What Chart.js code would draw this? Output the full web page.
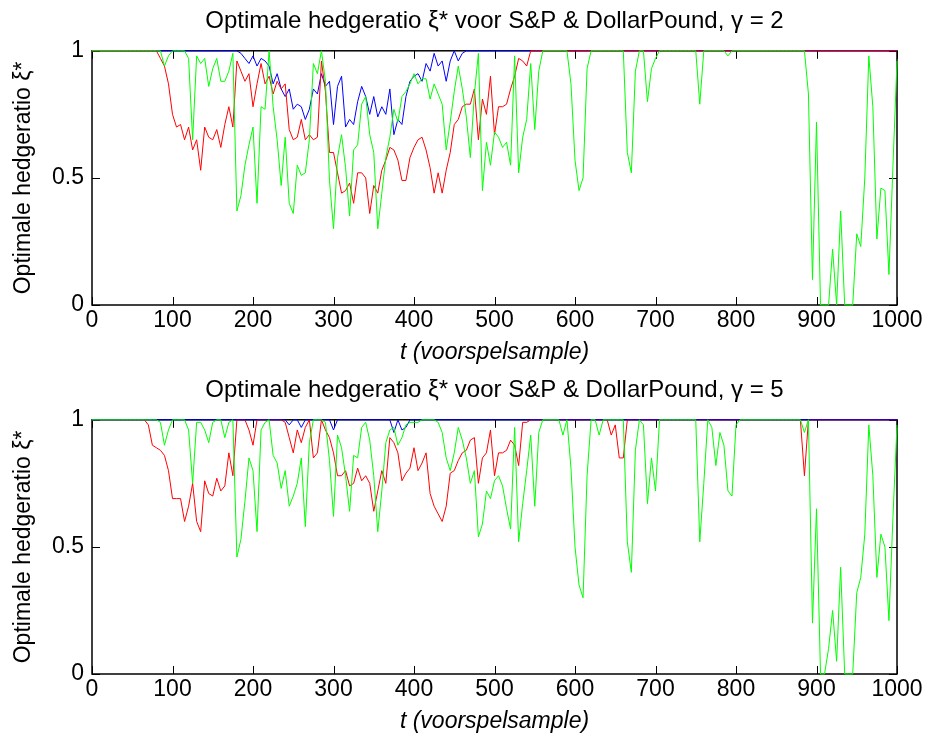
<!DOCTYPE html>
<html lang="nl">
<head>
<meta charset="UTF-8">
<title>Optimale hedgeratio</title>
<script src="https://cdn.jsdelivr.net/npm/chart.js@4/dist/chart.umd.min.js"></script>
<style>
  html, body { margin: 0; padding: 0; background: #fff; overflow: hidden; }
  .wrap { position: relative; width: 927px; height: 738px; }
  canvas { position: absolute; left: 0; }
  #top { top: 0; }
  #bot { top: 369px; }
</style>
</head>
<body>
<div class="wrap">
  <canvas id="top" width="927" height="370"></canvas>
  <canvas id="bot" width="927" height="370"></canvas>
</div>
<script>
// sample times (every 5 steps of the forecast sample)
const tSample = [];
for (let i = 0; i <= 1000; i += 5) tSample.push(i);

const xTicks = [0, 100, 200, 300, 400, 500, 600, 700, 800, 900, 1000];
const yTicks = [0, 0.5, 1];

// gamma = 2
const blueG2 = [
  1,1,1,1,1,1,1,1,1,1,
  1,1,1,1,1,1,1,1,1,1,
  1,1,1,1,1,1,1,1,1,1,
  1,1,1,1,1,1,1,0.99,0.97,0.95,
  0.98,0.94,0.97,0.96,0.94,0.87,0.91,0.85,0.82,0.85,
  0.77,0.79,0.78,0.73,0.77,0.85,0.83,0.91,0.86,0.88,
  0.71,0.86,0.90,0.70,0.73,0.71,0.80,0.86,0.82,0.75,
  0.82,0.74,0.78,0.75,0.85,0.67,0.73,0.71,0.82,0.88,
  0.90,0.91,0.88,0.95,0.92,0.99,0.94,0.96,0.88,0.96,
  1,0.96,0.99,1,1,1,1,1,1,1,
  1,1,1,1,1,1,1,1,1,1,
  1,1,1,1,1,1,1,1,1,1,
  1,1,1,1,1,1,1,1,1,1,
  1,1,1,1,1,1,1,1,1,1,
  1,1,1,1,1,1,1,1,1,1,
  1,1,1,1,1,1,1,1,1,1,
  1,1,1,1,1,1,1,1,1,1,
  1,1,1,1,1,1,1,1,1,1,
  1,1,1,1,1,1,1,1,1,1,
  1,1,1,1,1,1,1,1,1,1,
  1
];
const redG2 = [
  1,1,1,1,1,1,1,1,1,1,
  1,1,1,1,1,1,1,0.97,0.94,0.87,
  0.75,0.70,0.71,0.65,0.70,0.61,0.65,0.53,0.70,0.66,
  0.65,0.69,0.62,0.71,0.78,0.70,0.96,0.92,0.88,0.91,
  0.78,0.87,0.95,0.87,0.90,0.83,0.88,0.85,0.87,0.69,
  0.65,0.66,0.73,0.65,0.67,0.65,0.66,0.96,0.84,0.60,
  0.60,0.52,0.44,0.45,0.48,0.40,0.52,0.52,0.50,0.36,
  0.47,0.44,0.53,0.57,0.62,0.61,0.57,0.49,0.49,0.58,
  0.62,0.65,0.66,0.61,0.54,0.44,0.52,0.44,0.53,0.60,
  0.71,0.73,0.78,0.79,0.79,0.85,0.65,0.81,0.75,0.90,
  0.67,0.78,0.78,0.79,0.85,0.90,0.97,0.96,0.94,1,
  1,1,1,1,1,1,1,1,1,1,
  1,1,1,1,1,1,1,1,1,1,
  1,1,1,1,1,1,1,1,1,1,
  1,1,1,1,1,1,1,1,1,1,
  1,1,1,1,1,1,1,1,1,1,
  1,1,1,1,1,1,1,1,1,1,
  1,1,1,1,1,1,1,1,1,1,
  1,1,1,1,1,1,1,1,1,1,
  1,1,1,1,1,1,1,1,1,1,
  1
];
const greenG2 = [
  1,1,1,1,1,1,1,1,1,1,
  1,1,1,1,1,1,1,1,0.94,0.98,
  1,1,1,1,0.97,0.65,0.98,0.95,0.97,0.86,
  0.93,0.97,0.88,0.88,0.92,0.99,0.37,0.43,0.55,0.63,
  0.70,0.40,0.78,0.77,1,0.78,0.65,0.47,0.66,0.40,
  0.36,0.55,0.51,0.52,0.65,0.95,0.91,1,0.88,0.49,
  0.30,0.58,0.67,0.54,0.35,0.61,0.63,0.79,0.82,0.67,
  0.60,0.30,0.44,0.58,0.66,0.77,0.72,0.82,0.84,0.87,
  0.91,0.87,0.89,0.89,0.81,0.87,0.83,0.79,0.61,0.72,
  0.84,0.94,0.85,0.74,0.58,0.83,0.99,0.45,0.64,0.55,
  0.68,0.66,0.62,0.64,0.55,0.98,0.52,0.66,0.73,0.95,
  0.69,0.92,1,1,1,1,1,1,1,0.87,
  0.57,0.45,0.50,0.93,1,1,1,1,1,1,
  1,1,1,0.60,0.52,0.92,1,1,0.80,0.93,
  0.97,1,1,1,1,1,1,1,1,1,
  1,0.79,1,1,1,1,1,1,0.98,1,
  1,1,1,1,1,1,1,1,1,1,
  1,1,1,1,1,1,1,1,0.83,0.10,
  0.72,0,0,0,0.22,0,0.37,0,0,0,
  0.28,0.23,0.50,0.98,0.78,0.26,0.46,0.45,0.12,0.55,
  0.96
];

// gamma = 5
const blueG5 = [
  1,1,1,1,1,1,1,1,1,1,
  1,1,1,1,1,1,1,1,1,1,
  1,1,1,1,1,1,1,1,1,1,
  1,1,1,1,1,1,1,1,1,1,
  1,1,1,1,1,1,1,1,1,0.98,
  1,1,0.97,1,1,1,1,1,1,1,
  0.96,1,1,1,1,1,1,1,1,1,
  1,1,1,1,1,0.95,1,0.96,0.97,1,
  1,1,1,1,1,1,1,1,1,1,
  1,1,1,1,1,1,1,1,1,1,
  1,1,1,1,1,1,1,1,1,1,
  1,1,1,1,1,1,1,1,1,1,
  1,1,1,1,1,1,1,1,1,1,
  1,1,1,1,1,1,1,1,1,1,
  1,1,1,1,1,1,1,1,1,1,
  1,1,1,1,1,1,1,1,1,1,
  1,1,1,1,1,1,1,1,1,1,
  1,1,1,1,1,1,1,1,1,1,
  1,1,1,1,1,1,1,1,1,1,
  1,1,1,1,1,1,1,1,1,1,
  1
];
const redG5 = [
  1,1,1,1,1,1,1,1,1,1,
  1,1,1,1,0.98,0.90,0.89,0.88,0.86,0.80,
  0.69,0.69,0.69,0.60,0.66,0.75,0.60,0.56,0.76,0.71,
  0.70,0.77,0.72,0.74,0.87,0.78,1,1,1,0.96,
  0.90,1,1,1,1,1,1,1,0.99,0.93,
  0.87,0.96,0.91,0.97,1,0.85,0.87,1,0.96,0.93,
  0.87,0.78,0.78,0.80,0.74,0.75,0.81,0.76,0.78,0.75,
  0.64,0.72,0.80,0.75,0.93,0.91,0.87,0.76,0.79,0.81,
  0.89,0.80,0.83,0.87,0.71,0.66,0.63,0.60,0.66,0.79,
  0.80,0.84,0.87,0.88,0.92,0.93,0.75,0.85,0.87,0.96,
  0.78,0.87,0.87,0.88,0.92,0.90,0.82,0.99,0.99,1,
  1,1,1,1,1,1,1,1,1,1,
  1,1,1,1,1,1,1,1,1,0.94,
  0.98,0.85,0.85,1,1,1,1,1,1,1,
  1,1,1,1,1,1,1,1,1,1,
  1,1,1,1,1,1,1,1,1,1,
  1,1,1,1,1,1,1,1,1,1,
  1,1,1,1,1,1,1,0.78,1,1,
  1,1,1,1,1,1,1,1,1,1,
  1,1,1,1,1,1,1,1,1,1,
  1
];
const greenG5 = [
  1,1,1,1,1,1,1,1,1,1,
  1,1,1,1,1,1,1,0.99,0.90,0.96,
  1,1,1,1,0.96,0.75,0.99,0.99,0.96,0.91,
  0.99,1,1,0.93,0.99,1,0.46,0.53,0.68,0.85,
  0.80,0.56,0.96,0.99,1,0.86,0.83,0.73,0.80,0.66,
  0.70,0.75,0.85,0.58,0.91,1,1,1,0.99,0.84,
  0.62,0.94,0.89,0.78,0.64,0.86,0.85,0.97,0.99,0.92,
  0.78,0.56,0.72,0.91,0.96,0.97,0.90,0.93,0.98,0.99,
  0.99,0.99,1,1,1,1,0.99,0.95,0.85,0.80,
  0.87,0.97,0.92,0.85,0.75,0.80,0.54,0.59,0.72,0.69,
  0.76,0.78,0.74,0.65,0.57,0.97,0.52,0.67,0.80,0.94,
  0.66,0.95,1,1,1,1,1,0.94,1,0.81,
  0.50,0.35,0.30,0.78,1,1,0.94,1,1,1,
  1,1,1,0.52,0.40,0.88,1,0.98,0.67,0.85,
  0.72,1,1,1,1,1,1,1,1,1,
  1,0.52,0.75,1,0.97,0.82,0.95,0.90,0.72,0.70,
  0.98,1,1,1,1,1,1,1,1,1,
  1,1,1,1,1,1,1,0.95,1,0.20,
  0.65,0,0,0.10,0.25,0.05,0.42,0,0,0,
  0.32,0.38,0.55,0.98,0.78,0.38,0.55,0.50,0.21,0.62,
  0.98
];

const FONT = '"Liberation Sans", Arial, sans-serif';
Chart.defaults.font.family = FONT;
Chart.defaults.color = '#000';

function pts(vals) {
  return vals.map((v, i) => ({ x: tSample[i], y: v }));
}

function line(vals, color) {
  return {
    data: pts(vals),
    borderColor: color,
    borderWidth: 1,
    pointRadius: 0,
    tension: 0,
    clip: false
  };
}

// box around the plot with inward ticks, drawn under the lines
const boxPlugin = {
  id: 'box',
  beforeDatasetsDraw(chart) {
    const { ctx, chartArea: a, scales: { x, y } } = chart;
    ctx.save();
    ctx.strokeStyle = '#000';
    ctx.lineWidth = 1;
    ctx.beginPath();
    xTicks.forEach(v => {
      const px = Math.round(x.getPixelForValue(v)) + 0.5;
      ctx.moveTo(px, a.bottom); ctx.lineTo(px, a.bottom - 8);
      ctx.moveTo(px, a.top); ctx.lineTo(px, a.top + 8);
    });
    yTicks.forEach(v => {
      const py = Math.round(y.getPixelForValue(v)) + 0.5;
      ctx.moveTo(a.left, py); ctx.lineTo(a.left + 8, py);
      ctx.moveTo(a.right, py); ctx.lineTo(a.right - 8, py);
    });
    ctx.stroke();
    ctx.lineWidth = 1.5;
    ctx.strokeRect(a.left, a.top, a.right - a.left, a.bottom - a.top);
    ctx.restore();
  }
};

function makeChart(id, gamma, datasets) {
  return new Chart(document.getElementById(id), {
    type: 'line',
    data: { datasets },
    plugins: [boxPlugin],
    options: {
      responsive: false,
      animation: false,
      devicePixelRatio: 1,
      layout: { padding: { left: 0, right: 30, top: 0, bottom: 0 } },
      plugins: {
        legend: { display: false },
        tooltip: { enabled: false },
        title: {
          display: true,
          fullSize: false,
          text: 'Optimale hedgeratio ξ* voor S&P & DollarPound, γ = ' + gamma,
          font: { size: 24, weight: 'normal' },
          padding: { top: 7, bottom: 15 }
        }
      },
      scales: {
        x: {
          type: 'linear',
          min: 0,
          max: 1000,
          grid: { display: false, drawTicks: false },
          border: { display: false },
          ticks: {
            stepSize: 100, padding: 2, font: { size: 23 }, maxRotation: 0, autoSkip: false,
            callback: v => String(v)
          },
          title: {
            display: true,
            text: 't (voorspelsample)',
            font: { size: 23, style: 'italic' },
            padding: { top: 0, bottom: 4 }
          },
          afterFit(s) { s.height = 65; }
        },
        y: {
          min: 0,
          max: 1,
          grid: { display: false, drawTicks: false },
          border: { display: false },
          ticks: { stepSize: 0.5, padding: 8, font: { size: 23 }, callback: v => String(v) },
          title: {
            display: true,
            text: 'Optimale hedgeratio ξ*',
            font: { size: 23 },
            padding: { top: 10, bottom: 0 }
          },
          afterFit(s) { s.width = 92; }
        }
      }
    }
  });
}

makeChart('top', 2, [
  line(greenG2, '#00ff00'),
  line(redG2, '#ff0000'),
  line(blueG2, '#0000ff')
]);
makeChart('bot', 5, [
  line(greenG5, '#00ff00'),
  line(blueG5, '#0000ff'),
  line(redG5, '#ff0000')
]);
</script>
</body>
</html>
